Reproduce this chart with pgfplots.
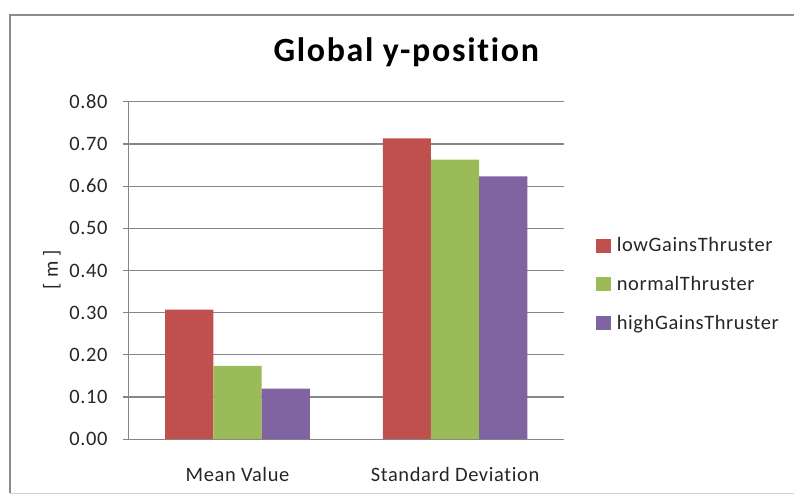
\documentclass[border=0pt]{standalone}
\usepackage{fontspec}
\setmainfont{Carlito}[LetterSpace=3, Ligatures={NoCommon}]
\usepackage{pgfplots}
\pgfplotsset{compat=1.18}

\definecolor{xlred}{HTML}{C0504D}
\definecolor{xlgreen}{HTML}{9BBB59}
\definecolor{xlpurple}{HTML}{8064A2}
\definecolor{xlgrid}{HTML}{868686}
\definecolor{xlframe}{HTML}{8C8C8C}
\definecolor{xltext}{HTML}{262626}

\newcommand{\lblfont}{\fontsize{20.5}{23}\selectfont}

\begin{document}
\begin{tikzpicture}[x=1pt,y=1pt]
  % canvas and chart frame
  \path (0,0) rectangle (795,496);
  \draw[xlframe, line width=1.2pt] (10,2) -- (10,481) -- (796,481);
  \draw[xlframe!40, line width=0.8pt] (10,2) -- (796,2);

  % title and axis title
  \node[anchor=base, font=\bfseries\fontsize{34}{38}\selectfont\addfontfeature{LetterSpace=5}, text=black] at (407,434) {Global y-position};
  \node[rotate=90, font=\lblfont, text=xltext] at (52,226) {[ m ]};

  \begin{axis}[
    at={(129pt,56pt)}, anchor=south west,
    scale only axis, width=436pt, height=338pt,
    xmin=-0.5, xmax=1.5, ymin=0, ymax=0.8,
    xtick={0,1}, xticklabels={Mean Value, Standard Deviation},
    ytick={0,0.1,...,0.8},
    axis x line*=bottom, axis y line*=left,
    axis line style={xlgrid, line width=1.2pt},
    x axis line style={-}, y axis line style={-},
    ymajorgrids, major grid style={xlgrid, line width=1.2pt},
    tick align=outside,
    major tick length=6pt,
    xtick style={draw=none},
    ytick style={xlgrid, line width=1.2pt},
    /pgf/number format/.cd, fixed, fixed zerofill, precision=2, assume math mode=true,
    /pgfplots/.cd,
    tick label style={font=\lblfont, text=xltext},
    yticklabel style={anchor=east, inner sep=0pt, xshift=-15pt},
    xticklabel style={anchor=base, inner sep=0pt, yshift=-36pt},
    ybar=0pt, bar width=48.3pt,
    legend style={
      at={(1.073,0.459)}, anchor=west, draw=none, fill=none,
      font=\lblfont, text=xltext,
      row sep=19pt, inner sep=0pt,
      /tikz/every odd column/.append style={column sep=4pt},
    },
    legend cell align=left,
    legend image code/.code={\fill[#1] (0pt,-7pt) rectangle (15pt,7pt);},
  ]
    \addplot[fill=xlred, draw=none] coordinates {(0,0.307) (1,0.713)};
    \addplot[fill=xlgreen, draw=none] coordinates {(0,0.174) (1,0.663)};
    \addplot[fill=xlpurple, draw=none] coordinates {(0,0.120) (1,0.623)};
    \legend{lowGainsThruster, normalThruster, highGainsThruster}
  \end{axis}
\end{tikzpicture}
\end{document}
